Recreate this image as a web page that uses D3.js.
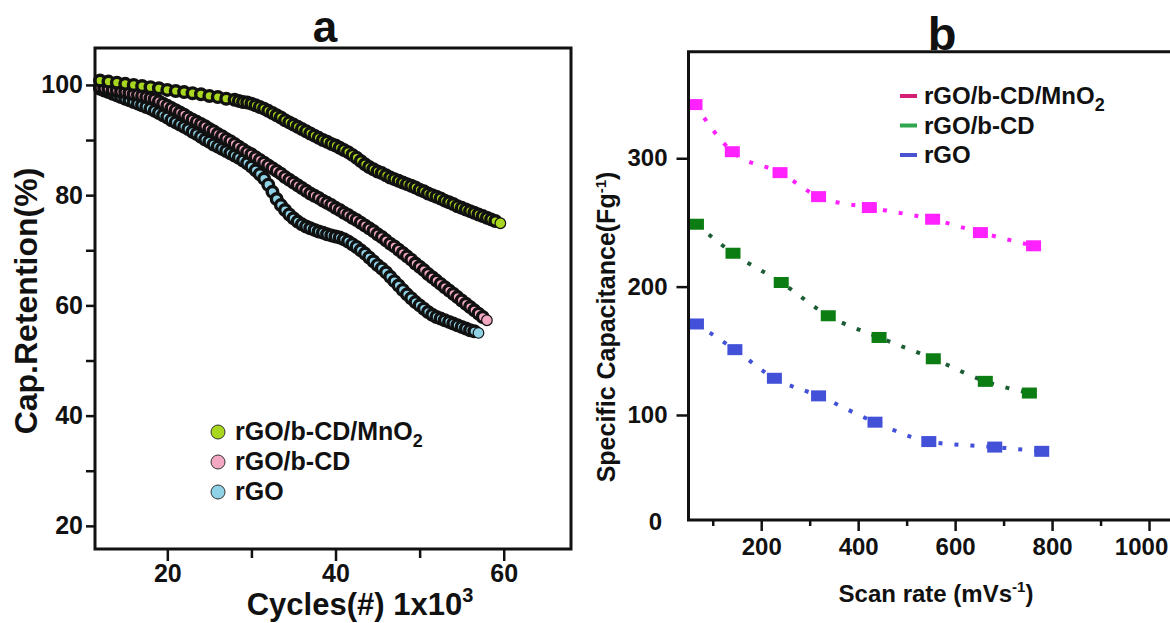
<!DOCTYPE html>
<html>
<head>
<meta charset="utf-8">
<title>Cycling stability and specific capacitance</title>
<script src="https://d3js.org/d3.v7.min.js"></script>
<style>
  body { margin: 0; background: #fff; }
  svg text { font-family: "Liberation Sans", Arial, sans-serif; font-weight: bold; fill: #111; }
</style>
</head>
<body>
<script>
// ---- panel a: capacitance retention vs cycles (x10^3) ----
const mnRetention = [
  [12,100.8],[13,100.6],[14,100.4],[15,100.2],[16,100.0],[17,99.8],[18,99.6],[19,99.4],[20,99.1],
  [21,98.9],[22,98.7],[23,98.5],[24,98.3],[25,98.0],[26,97.8],[27,97.5],[28,97.3],
  [28.5,97.1],[29,96.9],[29.5,96.8],[30,96.6],[30.5,96.3],[31,96.0],[31.5,95.7],[32,95.3],[32.5,94.9],
  [33,94.5],[33.5,94.1],[34,93.6],[34.5,93.2],[35,92.8],[35.5,92.4],[36,92.0],[36.5,91.6],[37,91.2],
  [37.5,90.8],[38,90.4],[38.5,90.0],[39,89.7],[39.5,89.3],[40,89.0],[40.5,88.6],[41,88.2],[41.5,87.8],
  [42,87.3],[42.5,86.8],[43,86.2],[43.5,85.6],[44,85.1],[44.5,84.7],[45,84.3],[45.5,84.0],[46,83.6],
  [46.5,83.2],[47,82.9],[47.5,82.6],[48,82.3],[48.5,82.0],[49,81.7],[49.5,81.4],[50,81.0],[50.5,80.7],
  [51,80.3],[51.5,80.0],[52,79.7],[52.5,79.4],[53,79.0],[53.5,78.7],[54,78.4],[54.5,78.0],[55,77.7],
  [55.5,77.4],[56,77.1],[56.5,76.8],[57,76.5],[57.5,76.2],[58,75.9],[58.5,75.6],[59,75.3],[59.6,74.9]
];
const cdRetention = [
  [12,99.6],[12.5,99.4],[13,99.3],[13.5,99.1],[14,99.0],[14.5,98.8],[15,98.7],[15.5,98.5],[16,98.3],
  [16.5,98.2],[17,98.0],[17.5,97.8],[18,97.6],[18.5,97.4],[19,97.0],[19.5,96.6],[20,96.2],[20.5,95.8],
  [21,95.4],[21.5,95.0],[22,94.6],[22.5,94.1],[23,93.7],[23.5,93.3],[24,92.9],[24.5,92.5],[25,92.0],
  [25.5,91.6],[26,91.1],[26.5,90.7],[27,90.2],[27.5,89.8],[28,89.3],[28.5,88.8],[29,88.3],[29.5,87.8],
  [30,87.4],[30.5,86.9],[31,86.4],[31.5,85.9],[32,85.4],[32.5,84.9],[33,84.4],[33.5,83.9],[34,83.3],
  [34.5,82.8],[35,82.3],[35.5,81.8],[36,81.3],[36.5,80.8],[37,80.3],[37.5,79.9],[38,79.5],[38.5,79.0],
  [39,78.6],[39.5,78.2],[40,77.7],[40.5,77.3],[41,76.8],[41.5,76.4],[42,75.9],[42.5,75.5],[43,75.0],
  [43.5,74.5],[44,74.0],[44.5,73.5],[45,72.9],[45.5,72.4],[46,71.8],[46.5,71.2],[47,70.7],[47.5,70.1],
  [48,69.5],[48.5,68.9],[49,68.3],[49.5,67.6],[50,67.0],[50.5,66.4],[51,65.7],[51.5,65.1],[52,64.5],
  [52.5,63.9],[53,63.3],[53.5,62.7],[54,62.1],[54.5,61.5],[55,60.9],[55.5,60.3],[56,59.7],[56.5,59.1],
  [57,58.5],[57.5,57.9],[58,57.3]
];
const rgoRetention = [
  [12,99.3],[12.5,99.0],[13,98.7],[13.5,98.4],[14,98.1],[14.5,97.8],[15,97.5],[15.5,97.2],[16,96.9],
  [16.5,96.6],[17,96.3],[17.5,96.0],[18,95.7],[18.5,95.3],[19,94.9],[19.5,94.5],[20,94.1],[20.5,93.6],
  [21,93.2],[21.5,92.8],[22,92.4],[22.5,92.0],[23,91.5],[23.5,91.1],[24,90.6],[24.5,90.1],[25,89.7],
  [25.5,89.2],[26,88.8],[26.5,88.4],[27,88.0],[27.5,87.6],[28,87.2],[28.5,86.8],[29,86.3],[29.5,85.8],
  [30,85.2],[30.5,84.5],[31,83.8],[31.5,83.0],[32,81.9],[32.5,80.6],[33,79.3],[33.5,78.2],[34,77.3],
  [34.5,76.5],[35,75.8],[35.5,75.2],[36,74.7],[36.5,74.3],[37,74.0],[37.5,73.7],[38,73.4],[38.5,73.2],
  [39,72.9],[39.5,72.7],[40,72.5],[40.5,72.3],[41,72.0],[41.5,71.6],[42,71.1],[42.5,70.6],[43,70.0],
  [43.5,69.4],[44,68.7],[44.5,68.0],[45,67.3],[45.5,66.7],[46,66.0],[46.5,65.2],[47,64.4],[47.5,63.6],
  [48,62.8],[48.5,62.0],[49,61.3],[49.5,60.6],[50,60.0],[50.5,59.4],[51,58.8],[51.5,58.3],[52,57.9],
  [52.5,57.6],[53,57.3],[53.5,57.0],[54,56.7],[54.5,56.4],[55,56.1],[55.5,55.8],[56,55.5],[56.5,55.3],
  [57,55.0]
];
const retTicks = [20, 30, 40, 50, 60, 70, 80, 90, 100];
const cycleTicks = [20, 30, 40, 50, 60];

// ---- panel b: specific capacitance vs scan rate ----
const mnCapacitance = [[63.4,341.8],[140.4,305.1],[238.8,288.8],[318.3,270.1],[423.1,261.6],[553.6,252.5],[652.2,242.1],[761.8,231.8]];
const cdCapacitance = [[66.4,248.6],[141.8,226.0],[241.3,203.2],[338.3,177.3],[443.1,160.4],[555.0,143.8],[662.3,126.2],[753.2,117.1]];
const rgoCapacitance = [[66.4,170.9],[145.7,150.9],[227.2,128.6],[318.3,114.9],[434.7,94.4],[545.7,79.3],[681.7,75.0],[778.7,71.7]];
const capTicks = [100, 200, 300];
const rateTicks = [100, 200, 300, 400, 500, 600, 700, 800, 900, 1000];

const seriesNames = ["rGO/b-CD/MnO", "rGO/b-CD", "rGO"];

const svg = d3.select("body").append("svg")
  .attr("width", 1170)
  .attr("height", 623)
  .style("background", "#fff");

// ================= panel a =================
const gA = svg.append("g");
const xA = d3.scaleLinear().domain([11.4, 68]).range([95, 571]);
const yA = d3.scaleLinear().domain([15.8, 106.7]).range([549, 48]);

const seriesA = [
  { pts: rgoRetention, fill: "#8fd2e6" },
  { pts: cdRetention, fill: "#f2a7c3" },
  { pts: mnRetention, fill: "#a9d61e" }
];
seriesA.forEach(s => {
  gA.append("g").selectAll("circle")
    .data(s.pts).join("circle")
    .attr("cx", d => xA(d[0]))
    .attr("cy", d => yA(d[1]))
    .attr("r", 5.3)
    .attr("fill", s.fill)
    .attr("stroke", "#111")
    .attr("stroke-width", (d, i) => i === s.pts.length - 1 ? 1.2 : 3.4);
});

const axAy = gA.append("g")
  .attr("transform", "translate(95,0)")
  .call(d3.axisLeft(yA).tickValues(retTicks).tickSize(9).tickPadding(3)
    .tickFormat(d => d % 20 === 0 ? d : ""));
const axAx = gA.append("g")
  .attr("transform", "translate(0,549)")
  .call(d3.axisBottom(xA).tickValues(cycleTicks).tickSize(12).tickPadding(3)
    .tickFormat(d => d % 20 === 0 ? d : ""));
axAx.selectAll(".tick line").filter(d => d % 20 !== 0).attr("y2", 9);
[axAy, axAx].forEach(ax => {
  ax.select(".domain").remove();
  ax.selectAll(".tick line").attr("stroke", "#111").attr("stroke-width", 2.5);
  ax.selectAll("text").style("font-size", "25px");
});

gA.append("rect")
  .attr("x", 95).attr("y", 48).attr("width", 476).attr("height", 501)
  .attr("fill", "none").attr("stroke", "#111").attr("stroke-width", 3);

gA.append("text").attr("x", 325).attr("y", 42).attr("text-anchor", "middle")
  .style("font-size", "44px").text("a");

gA.append("text")
  .attr("transform", "translate(37,301) rotate(-90)")
  .attr("text-anchor", "middle")
  .style("font-size", "32px")
  .text("Cap.Retention(%)");

const xtA = gA.append("text").attr("x", 360).attr("y", 615).attr("text-anchor", "middle")
  .style("font-size", "31px");
xtA.append("tspan").text("Cycles(#) 1x10");
xtA.append("tspan").attr("dy", -13).style("font-size", "20px").text("3");

const legA = [
  { name: seriesNames[0], fill: "#a9d61e", sub: "2" },
  { name: seriesNames[1], fill: "#f2a7c3" },
  { name: seriesNames[2], fill: "#8fd2e6" }
];
legA.forEach((l, i) => {
  const cy = 432 + i * 30;
  gA.append("circle").attr("cx", 218).attr("cy", cy).attr("r", 7)
    .attr("fill", l.fill).attr("stroke", "#333").attr("stroke-width", 1);
  const t = gA.append("text").attr("x", 235).attr("y", cy + 8).style("font-size", "25px");
  t.append("tspan").text(l.name);
  if (l.sub) t.append("tspan").attr("dy", 7).style("font-size", "18px").text(l.sub);
});

// ================= panel b =================
const gB = svg.append("g");
const xB = d3.scaleLinear().domain([50, 1100]).range([688.5, 1197.5]);
const yB = d3.scaleLinear().domain([18.2, 383]).range([520, 51.7]);

const seriesB = [
  { pts: mnCapacitance, fill: "#ff22ff", dot: "#ff22ff" },
  { pts: cdCapacitance, fill: "#0b7d12", dot: "#1d5d35" },
  { pts: rgoCapacitance, fill: "#4351d8", dot: "#4351d8" }
];
const lineB = d3.line().x(d => xB(d[0])).y(d => yB(d[1])).curve(d3.curveMonotoneX);
seriesB.forEach(s => {
  gB.append("path").datum(s.pts)
    .attr("d", lineB)
    .attr("fill", "none")
    .attr("stroke", s.dot)
    .attr("stroke-width", 4)
    .attr("stroke-dasharray", "4 12");
  gB.append("g").selectAll("rect")
    .data(s.pts).join("rect")
    .attr("x", d => xB(d[0]) - 7.5)
    .attr("y", d => yB(d[1]) - 5.5)
    .attr("width", 15).attr("height", 11)
    .attr("fill", s.fill);
});

const axBy = gB.append("g")
  .attr("transform", "translate(688.5,0)")
  .call(d3.axisLeft(yB).tickValues(capTicks).tickSize(12).tickPadding(9));
const axBx = gB.append("g")
  .attr("transform", "translate(0,520)")
  .call(d3.axisBottom(xB).tickValues(rateTicks).tickSize(11).tickPadding(7)
    .tickFormat(d => d % 200 === 0 ? d : ""));
axBx.selectAll(".tick line").filter(d => d % 200 !== 0).attr("y2", 6);
[axBy, axBx].forEach(ax => {
  ax.select(".domain").remove();
  ax.selectAll(".tick line").attr("stroke", "#111").attr("stroke-width", 2.5);
  ax.selectAll("text").style("font-size", "24px");
});
// keep the last label inside the page edge
axBx.selectAll(".tick text").filter(d => d === 1000).attr("dx", -8);

gB.append("text").attr("x", 662).attr("y", 530)
  .attr("text-anchor", "end").style("font-size", "24px").text("0");

gB.append("path")
  .attr("d", `M1172,${yB.range()[1]}H688.5V520H1172`)
  .attr("fill", "none").attr("stroke", "#111").attr("stroke-width", 3);

gB.append("text").attr("x", 942).attr("y", 50).attr("text-anchor", "middle")
  .style("font-size", "47px").text("b");

const ytB = gB.append("text")
  .attr("transform", "translate(615,327) rotate(-90)")
  .attr("text-anchor", "middle")
  .style("font-size", "25px");
ytB.append("tspan").text("Specific Capacitance(Fg");
ytB.append("tspan").attr("dy", -9).style("font-size", "15px").text("-1");
ytB.append("tspan").attr("dy", 9).text(")");

const xtB = gB.append("text").attr("x", 936).attr("y", 602).attr("text-anchor", "middle")
  .style("font-size", "24px");
xtB.append("tspan").text("Scan rate (mVs");
xtB.append("tspan").attr("dy", -10).style("font-size", "15px").text("-1");
xtB.append("tspan").attr("dy", 10).text(")");

const legB = [
  { name: seriesNames[0], color: "#d41f74", sub: "2" },
  { name: seriesNames[1], color: "#2ea64f" },
  { name: seriesNames[2], color: "#4a52cf" }
];
legB.forEach((l, i) => {
  const cy = 96 + i * 29.5;
  gB.append("line").attr("x1", 900).attr("x2", 917).attr("y1", cy).attr("y2", cy)
    .attr("stroke", l.color).attr("stroke-width", 4);
  const t = gB.append("text").attr("x", 924).attr("y", cy + 8).style("font-size", "24px");
  t.append("tspan").text(l.name);
  if (l.sub) t.append("tspan").attr("dy", 7).style("font-size", "18px").text(l.sub);
});
</script>
</body>
</html>
